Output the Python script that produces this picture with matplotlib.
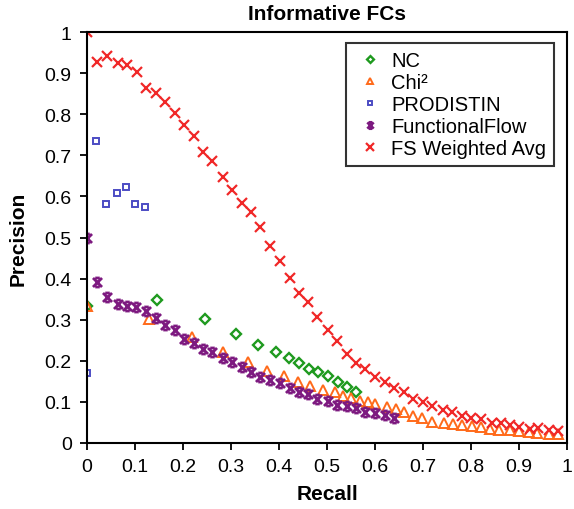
import matplotlib
matplotlib.use("Agg")
import matplotlib.pyplot as plt
from matplotlib.path import Path
from matplotlib.ticker import FormatStrFormatter

plt.rcParams['font.family'] = ['Liberation Sans', 'DejaVu Sans']

# NC
nc_x = [0.0, 0.145, 0.245, 0.311, 0.357, 0.393, 0.421, 0.442, 0.462, 0.481, 0.502, 0.523, 0.541, 0.561]
nc_y = [0.333, 0.348, 0.302, 0.265, 0.239, 0.221, 0.207, 0.195, 0.180, 0.172, 0.162, 0.149, 0.136, 0.123]

# Chi2
chi_x = [0.0, 0.129, 0.218, 0.283, 0.335, 0.376, 0.410, 0.439, 0.464, 0.492, 0.516, 0.533, 0.550,
         0.568, 0.585, 0.600, 0.624, 0.643, 0.660, 0.679, 0.698, 0.718, 0.743, 0.762, 0.781,
         0.802, 0.820, 0.840, 0.858, 0.881, 0.900, 0.920, 0.938, 0.962, 0.982]
chi_y = [0.334, 0.302, 0.259, 0.221, 0.198, 0.176, 0.164, 0.149, 0.139, 0.130, 0.123, 0.115, 0.109,
         0.103, 0.100, 0.095, 0.087, 0.083, 0.075, 0.065, 0.060, 0.052, 0.049, 0.046, 0.044,
         0.042, 0.040, 0.034, 0.032, 0.032, 0.028, 0.026, 0.024, 0.022, 0.022]

# PRODISTIN
pro_x = [0.0, 0.019, 0.039, 0.063, 0.082, 0.101, 0.120]
pro_y = [0.170, 0.735, 0.582, 0.608, 0.622, 0.582, 0.573]

# FunctionalFlow
ff_x = [0.0, 0.021, 0.041, 0.065, 0.084, 0.103, 0.122, 0.143, 0.162, 0.184, 0.203, 0.222, 0.242,
        0.261, 0.283, 0.302, 0.322, 0.341, 0.361, 0.382, 0.402, 0.423, 0.442, 0.461, 0.480,
        0.502, 0.521, 0.541, 0.561, 0.580, 0.600, 0.620, 0.640]
ff_y = [0.499, 0.392, 0.356, 0.338, 0.334, 0.330, 0.322, 0.304, 0.288, 0.275, 0.253, 0.243, 0.229,
        0.221, 0.206, 0.198, 0.184, 0.172, 0.161, 0.153, 0.145, 0.134, 0.123, 0.119, 0.107,
        0.103, 0.093, 0.091, 0.085, 0.076, 0.072, 0.068, 0.062]

# FS Weighted Avg
fs_x = [0.0, 0.020, 0.041, 0.065, 0.084, 0.104, 0.123, 0.143, 0.162, 0.184, 0.203, 0.223, 0.242,
        0.261, 0.284, 0.302, 0.322, 0.342, 0.361, 0.382, 0.402, 0.423, 0.442, 0.461, 0.480,
        0.502, 0.521, 0.541, 0.561, 0.580, 0.600, 0.620, 0.640, 0.660, 0.680, 0.699, 0.718,
        0.742, 0.760, 0.781, 0.800, 0.820, 0.843, 0.862, 0.881, 0.901, 0.922, 0.939, 0.962, 0.981]
fs_y = [1.0, 0.928, 0.942, 0.924, 0.920, 0.902, 0.864, 0.852, 0.829, 0.802, 0.774, 0.748, 0.707,
        0.687, 0.648, 0.616, 0.585, 0.561, 0.525, 0.480, 0.444, 0.401, 0.364, 0.342, 0.306,
        0.275, 0.247, 0.217, 0.195, 0.180, 0.161, 0.149, 0.134, 0.123, 0.107, 0.099, 0.089,
        0.081, 0.076, 0.066, 0.062, 0.058, 0.049, 0.049, 0.045, 0.040, 0.034, 0.036, 0.032, 0.028]

# marcador: x con barras cortas arriba y abajo
verts = [(-1, -1), (1, 1), (-1, 1), (1, -1), (-0.5, 1), (0.5, 1), (-0.5, -1), (0.5, -1)]
codes = [Path.MOVETO, Path.LINETO] * 4
star_x = Path(verts, codes)

fig = plt.figure(figsize=(5.74, 5.10), dpi=100)
ax = fig.add_axes([87 / 574, 1 - 444 / 510, 480 / 574, 411 / 510])

ax.plot(nc_x, nc_y, linestyle='none', marker='D', markersize=5, markerfacecolor='none',
        markeredgecolor='#1f9a1f', markeredgewidth=1.7, label='NC')
ax.plot(chi_x, chi_y, linestyle='none', marker='^', markersize=6.5, markerfacecolor='none',
        markeredgecolor='#ff6a1a', markeredgewidth=1.4, label='Chi²')
ax.plot(pro_x, pro_y, linestyle='none', marker='s', markersize=4.8, markerfacecolor='none',
        markeredgecolor='#4c4cc4', markeredgewidth=1.4, label='PRODISTIN')
ax.plot(ff_x, ff_y, linestyle='none', marker=star_x, markersize=6.5,
        markeredgecolor='#7d1a80', markeredgewidth=2.0, label='FunctionalFlow')
ax.plot(fs_x, fs_y, linestyle='none', marker='x', markersize=7.5, markeredgecolor='#f02828',
        markeredgewidth=1.6, label='FS Weighted Avg')

ax.set_xlim(0, 1)
ax.set_ylim(0, 1)
ax.set_xticks([i / 10 for i in range(11)])
ax.set_yticks([i / 10 for i in range(11)])
ax.xaxis.set_major_formatter(FormatStrFormatter('%g'))
ax.yaxis.set_major_formatter(FormatStrFormatter('%g'))
ax.tick_params(direction='out', length=5, width=1.3, labelsize=14, colors='black', pad=6)
for s in ax.spines.values():
    s.set_linewidth(1.5)

ax.set_xlabel('Recall', fontsize=15, fontweight='bold', labelpad=6)
ax.set_ylabel('Precision', fontsize=15, fontweight='bold', labelpad=12)
ax.set_title('Informative FCs', fontsize=15, fontweight='bold', pad=9)

leg = ax.legend(loc='upper right', bbox_to_anchor=(467 / 480, 400 / 411), borderaxespad=0,
                fontsize=14.5, frameon=True, fancybox=False, edgecolor='black',
                handletextpad=0.25, handlelength=1.6, labelspacing=0.15, borderpad=0.4,
                markerscale=0.7)
leg.get_frame().set_linewidth(1.5)

fig.savefig('out.png', dpi=100)
